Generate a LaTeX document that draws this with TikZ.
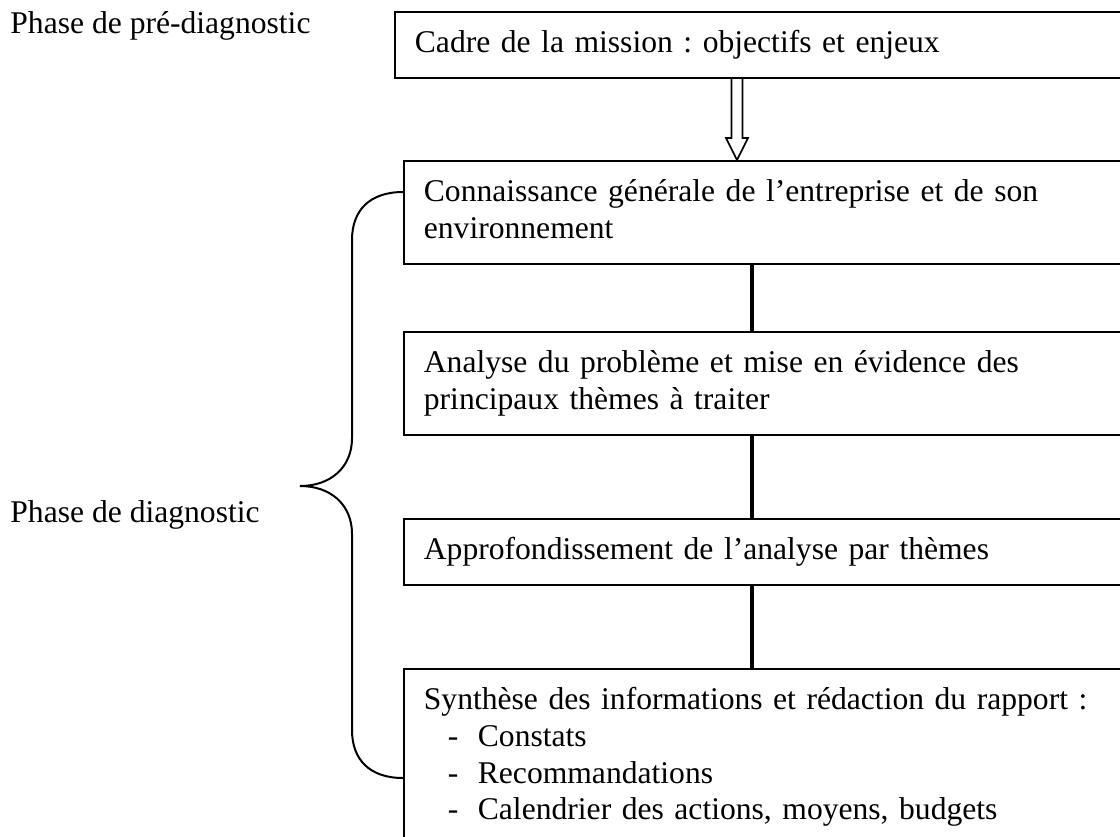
\documentclass[tikz,border=0pt]{standalone}
\usepackage{fontspec}
\setmainfont{Liberation Serif}
\frenchspacing
\usetikzlibrary{calc}
\tikzset{
  etape/.style={draw, line width=0.9pt, anchor=north west, align=left,
    text width=350pt, inner xsep=10pt, inner ysep=7.4pt,
    font=\fontsize{15.8}{18.4}\selectfont},
  phase/.style={anchor=base west, inner sep=0pt, font=\fontsize{15.8}{18.4}\selectfont},
  lien/.style={line width=1.8pt},
}
\begin{document}
\begin{tikzpicture}[x=0.5pt,y=-0.5pt]
      \useasboundingbox (0,0) rectangle (1120,836);
      \clip (0,0) rectangle (1120,836);
      \node[phase] (prediag) at (10,33) {Phase de pré-diagnostic};
      \node[phase] (diag) at (10,522) {Phase de diagnostic};
      \node[etape] (cadre) at (394,11) {\strut Cadre de la mission : objectifs et enjeux\strut};
      \node[etape] (conn) at (403,160) {\strut Connaissance générale de l’entreprise et de son\\environnement\strut};
      \node[etape] (analyse) at (403,331) {\strut Analyse du problème et mise en évidence des\\principaux thèmes à traiter\strut};
      \node[etape] (appro) at (403,518) {\strut Approfondissement de l’analyse par thèmes\strut};
      \node[etape] (synth) at (403,668) {\strut Synthèse des informations et rédaction du rapport :\\
        \hspace*{12pt}\makebox[15pt][l]{-}Constats\\
        \hspace*{12pt}\makebox[15pt][l]{-}Recommandations\\
        \hspace*{12pt}\makebox[15pt][l]{-}Calendrier des actions, moyens, budgets\strut};
      \coordinate (fx) at (737,0);
      \coordinate (lx) at (752,0);
      \coordinate (atop) at (cadre.south -| fx);
      \coordinate (abot) at (conn.north -| fx);
      \draw[line width=0.8pt, fill=white]
        ($(atop)+(-5.5,0)$) -- ($(abot)+(-5.5,-22)$) -- ($(abot)+(-11,-22)$) -- (abot)
        -- ($(abot)+(11,-22)$) -- ($(abot)+(5.5,-22)$) -- ($(atop)+(5.5,0)$);
      \begin{scope}[lien]
        \draw (conn.south -| lx) to (analyse.north -| lx);
        \draw (analyse.south -| lx) to (appro.north -| lx);
        \draw (appro.south -| lx) to (synth.north -| lx);
      \end{scope}
      \draw[line width=1pt] (403,192) .. controls (370,192) and (352,210) .. (352,240)
        -- (352,438) .. controls (352,468) and (330,486) .. (300,486)
        .. controls (330,486) and (352,504) .. (352,534)
        -- (352,730) .. controls (352,760) and (370,778) .. (403,778);
    \end{tikzpicture}
\end{document}
